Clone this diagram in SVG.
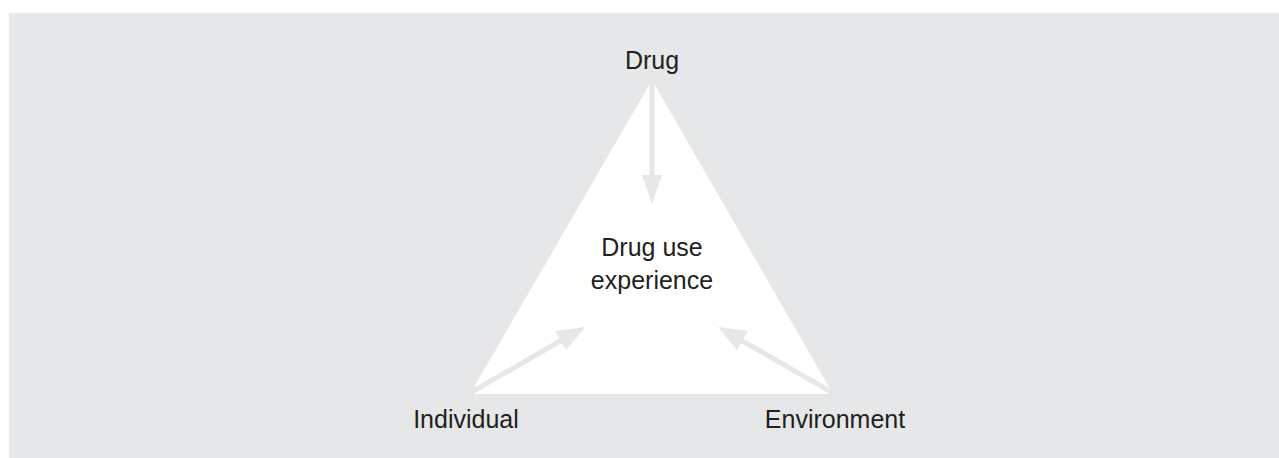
<svg xmlns="http://www.w3.org/2000/svg" width="1279" height="458" viewBox="0 0 1279 458">
<style>
text{font-family:"Liberation Sans",Arial,sans-serif;font-size:25px;fill:#231f20;text-anchor:middle}
.c{stroke:#e6e7e8;stroke-width:5;fill:none}
.h{fill:#e6e7e8}
</style>
<rect x="0" y="0" width="1279" height="458" fill="#ffffff"/>
<rect x="9" y="13" width="1270" height="445" fill="#e6e7e8"/>
<g id="triangle"><polygon points="652,80 833,394 470,394" fill="#ffffff"/></g>
<g id="connectors">
<line class="c" x1="652" y1="80" x2="652" y2="177"/>
<polygon class="h" points="642,175 662,175 652,204"/>
<line class="c" x1="470" y1="393" x2="562" y2="340"/>
<polygon class="h" points="555,331 566,350 585,327"/>
<line class="c" x1="833" y1="393" x2="741" y2="340"/>
<polygon class="h" points="748,331 737,350 718,327"/>
</g>
<g id="drug"><text x="652" y="69">Drug</text></g>
<g id="experience"><text x="652" y="256">Drug use</text><text x="652" y="289">experience</text></g>
<g id="individual"><text x="466" y="428">Individual</text></g>
<g id="environment"><text x="835" y="428">Environment</text></g>
</svg>
